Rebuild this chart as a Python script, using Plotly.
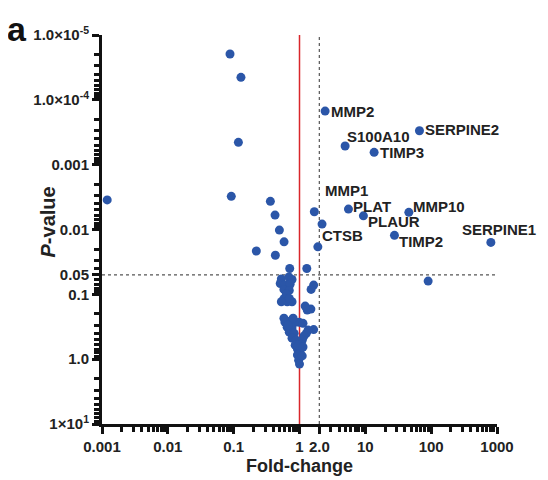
import numpy as np
import plotly.graph_objects as go

# ---- data (fold-change, P-value) ----
fold_change = [
    2.45, 66.4, 4.93, 13.6, 1.68, 5.54, 9.35, 45.8, 2.20, 27.7, 807, 1.90,
    90, 0.0012, 0.088, 0.129, 0.118, 0.092, 0.361, 0.425, 0.495, 0.221, 0.43,
    0.583, 0.71, 1.29,
    0.53, 0.69, 0.77, 0.51, 0.60, 0.72, 0.58, 0.70, 0.63, 0.58, 0.65, 0.77, 0.70, 0.53,
    1.64, 1.50, 1.31, 1.49, 1.22,
    0.60, 0.72, 0.86, 0.65, 0.77, 0.70, 0.83, 0.77, 0.89, 0.86, 0.93,
    0.99, 1.13,
    1.64, 1.35, 1.27, 1.17, 1.10, 1.06, 1.04, 1.02, 0.99, 0.97, 1.00,
    0.93, 1.10, 0.96, 1.13, 0.58, 0.80, 0.67,
]
p_value = [
    1.49e-4, 3.0e-4, 5.16e-4, 6.45e-4, 5.33e-3, 4.84e-3, 6.15e-3, 5.44e-3, 8.26e-3, 0.0123, 0.0158, 0.0185,
    0.0625, 3.5e-3, 1.96e-5, 4.5e-5, 4.53e-4, 3.08e-3, 3.68e-3, 6.0e-3, 0.0102, 0.0215, 0.025,
    0.0155, 0.040, 0.040,
    0.058, 0.054, 0.059, 0.068, 0.072, 0.070, 0.084, 0.087, 0.099, 0.117, 0.13, 0.13, 0.116, 0.13,
    0.072, 0.084, 0.175, 0.169, 0.152,
    0.268, 0.26, 0.27, 0.321, 0.33, 0.383, 0.40, 0.474, 0.51, 0.608, 0.70,
    0.27, 0.28,
    0.35, 0.356, 0.40, 0.44, 0.51, 0.59, 0.67, 0.78, 0.89, 1.035, 1.19,
    0.86, 0.89, 0.61, 0.65, 0.233, 0.233, 0.30,
]

genes = ["MMP2", "SERPINE2", "S100A10", "TIMP3", "MMP1", "PLAT", "MMP10",
         "PLAUR", "CTSB", "TIMP2", "SERPINE1"]
gene_fc = [2.45, 66.4, 4.93, 13.6, 1.68, 5.54, 45.8, 9.35, 2.20, 27.7, 807]
gene_p = [1.49e-4, 3.0e-4, 5.16e-4, 6.45e-4, 5.33e-3, 4.84e-3, 5.44e-3, 6.15e-3, 8.26e-3, 0.0123, 0.0158]
label_dx = [4, 4, 0, 4, 9, 3, 2, 3, -2, 3, -31]
label_dy = [0, 1, 10, 0, 21, 3, 6, -6, -11, -6, 13]

x_tickvals = [0.001, 0.01, 0.1, 1, 2, 10, 100, 1000]
x_ticktext = ["0.001", "0.01", "0.1", "1", "2.0", "10", "100", "1000"]
y_tickvals = [1e-5, 1e-4, 1e-3, 1e-2, 0.05, 0.1, 1, 10]
y_ticktext = ["1.0×10<sup>-5</sup>", "1.0×10<sup>-4</sup>", "0.001", "0.01",
              "0.05", "0.1", "1.0", "1×10<sup>1</sup>"]

p_threshold = 0.05
fc_ref = 1
fc_threshold = 2

BLUE = "#2B56A8"
FONT = "Liberation Sans, Arial, sans-serif"

x_minor = [m * 10.0 ** e for e in range(-3, 3) for m in range(2, 10)]
y_minor = [m * 10.0 ** e for e in range(-5, 1) for m in range(2, 10)]

fig = go.Figure()
fig.add_trace(go.Scatter(
    x=fold_change, y=p_value, mode="markers",
    marker=dict(color=BLUE, size=9, line=dict(width=0)),
    cliponaxis=False, showlegend=False, hoverinfo="x+y",
))

# reference lines
fig.add_shape(type="line", xref="x", yref="paper", x0=fc_ref, x1=fc_ref, y0=0, y1=1,
              line=dict(color="#D9262B", width=1.5), layer="below")
fig.add_shape(type="line", xref="x", yref="paper", x0=fc_threshold, x1=fc_threshold, y0=0, y1=1,
              line=dict(color="#555555", width=1.2, dash="dot"), layer="below")
fig.add_shape(type="line", xref="paper", yref="y", x0=0, x1=1, y0=p_threshold, y1=p_threshold,
              line=dict(color="#555555", width=1.2, dash="dot"), layer="below")

for g, fx, py, dx, dy in zip(genes, gene_fc, gene_p, label_dx, label_dy):
    fig.add_annotation(x=np.log10(fx), y=np.log10(py), text="<b>%s</b>" % g,
                       showarrow=False, xanchor="left", yanchor="middle",
                       xshift=dx, yshift=dy,
                       font=dict(family=FONT, size=15, color="#222222"))

# panel letter
fig.add_annotation(xref="paper", yref="paper", x=0, y=1, xshift=-97, yshift=27,
                   text="<b>a</b>", showarrow=False, xanchor="left", yanchor="top",
                   font=dict(family=FONT, size=34, color="#111111"))
# axis titles
fig.add_annotation(xref="paper", yref="paper", x=0.5, y=0, yshift=-42,
                   text="<b>Fold-change</b>", showarrow=False,
                   xanchor="center", yanchor="middle",
                   font=dict(family=FONT, size=18, color="#222222"))
fig.add_annotation(xref="paper", yref="paper", x=0, y=0.5, xshift=-55, yshift=7,
                   text="<b><i>P</i>-value</b>", showarrow=False, textangle=-90,
                   xanchor="center", yanchor="middle",
                   font=dict(family=FONT, size=20, color="#222222"))

fig.update_xaxes(
    type="log", range=[-3, 3], automargin=False,
    tickvals=x_tickvals, ticktext=x_ticktext,
    ticks="outside", ticklen=7, tickwidth=3, tickcolor="#111111",
    showline=True, linewidth=3, linecolor="#111111",
    showgrid=False, zeroline=False,
    minor=dict(tickvals=x_minor, ticks="outside", ticklen=5, tickwidth=3, tickcolor="#111111",
               showgrid=False),
    tickfont=dict(family=FONT, size=15, color="#222222", weight="bold"),
)
fig.update_yaxes(
    type="log", range=[1, -5], automargin=False,
    tickvals=y_tickvals, ticktext=y_ticktext,
    ticks="outside", ticklen=7, tickwidth=3, tickcolor="#111111",
    showline=True, linewidth=3, linecolor="#111111",
    showgrid=False, zeroline=False,
    minor=dict(tickvals=y_minor, ticks="outside", ticklen=5, tickwidth=3, tickcolor="#111111",
               showgrid=False),
    tickfont=dict(family=FONT, size=15, color="#222222", weight="bold"),
)

# the page adds an 8px body margin, so the figure is 8px smaller on each side
fig.update_layout(
    width=540, height=472,
    margin=dict(l=94, r=51, t=27, b=56, pad=0),
    plot_bgcolor="white", paper_bgcolor="white",
    showlegend=False,
)

fig.write_html("out.html")
